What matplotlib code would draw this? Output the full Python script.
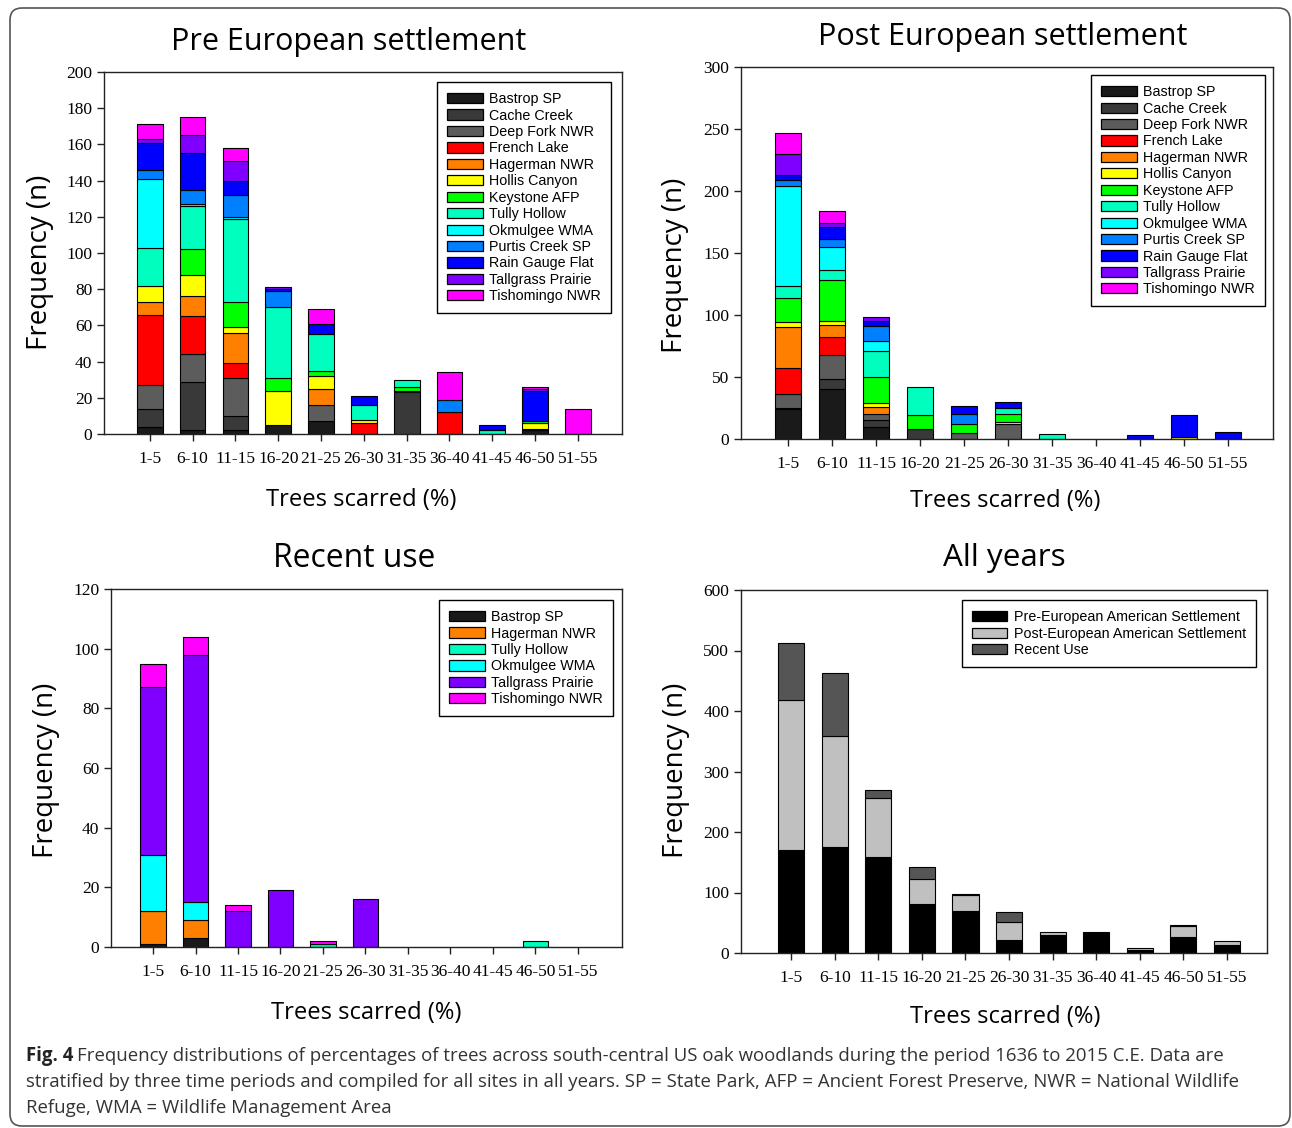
import matplotlib
matplotlib.use("Agg")
import matplotlib.pyplot as plt
from matplotlib.patches import Patch, FancyBboxPatch
from matplotlib.transforms import IdentityTransform
from matplotlib import font_manager
import numpy as np

# ---------------- data ----------------
categories = ["1-5", "6-10", "11-15", "16-20", "21-25", "26-30",
              "31-35", "36-40", "41-45", "46-50", "51-55"]

sites = ["Bastrop SP", "Cache Creek", "Deep Fork NWR", "French Lake",
         "Hagerman NWR", "Hollis Canyon", "Keystone AFP", "Tully Hollow",
         "Okmulgee WMA", "Purtis Creek SP", "Rain Gauge Flat",
         "Tallgrass Prairie", "Tishomingo NWR"]

# Pre European settlement
pre_bastrop    = [4, 2, 2, 5, 7, 0, 0, 0, 0, 2, 0]
pre_cache      = [10, 27, 8, 0, 0, 0, 23, 0, 0, 1, 0]
pre_deepfork   = [13, 15, 21, 0, 9, 0, 1, 0, 0, 0, 0]
pre_french     = [39, 21, 8, 0, 0, 6, 0, 12, 0, 0, 0]
pre_hagerman   = [7, 11, 17, 0, 9, 0, 0, 0, 0, 0, 0]
pre_hollis     = [9, 12, 3, 19, 7, 2, 0, 0, 0, 3, 0]
pre_keystone   = [0, 14, 14, 7, 3, 0, 2, 0, 0, 1, 0]
pre_tully      = [21, 24, 46, 39, 20, 8, 4, 0, 2, 0, 0]
pre_okmulgee   = [38, 1, 1, 0, 0, 0, 0, 0, 0, 0, 0]
pre_purtis     = [5, 8, 12, 9, 0, 0, 0, 7, 0, 0, 0]
pre_raingauge  = [15, 20, 8, 1, 6, 5, 0, 0, 3, 17, 0]
pre_tallgrass  = [2, 10, 11, 1, 0, 0, 0, 0, 0, 1, 0]
pre_tishomingo = [8, 10, 7, 0, 8, 0, 0, 15, 0, 1, 14]

# Post European settlement
post_bastrop    = [24, 40, 10, 0, 0, 0, 0, 0, 0, 0, 0]
post_cache      = [1, 8, 5, 8, 0, 0, 0, 0, 0, 0, 0]
post_deepfork   = [11, 20, 5, 0, 5, 12, 0, 0, 0, 0, 0]
post_french     = [21, 14, 0, 0, 0, 0, 0, 0, 0, 0, 0]
post_hagerman   = [33, 10, 6, 0, 0, 0, 0, 0, 0, 0, 0]
post_hollis     = [4, 3, 3, 0, 0, 2, 0, 0, 0, 2, 0]
post_keystone   = [20, 33, 21, 11, 7, 6, 0, 0, 0, 0, 0]
post_tully      = [9, 8, 21, 23, 0, 5, 4, 0, 0, 0, 0]
post_okmulgee   = [81, 19, 8, 0, 0, 0, 0, 0, 0, 0, 0]
post_purtis     = [5, 6, 12, 0, 8, 0, 0, 0, 0, 0, 0]
post_raingauge  = [4, 10, 4, 0, 7, 5, 0, 0, 3, 17, 6]
post_tallgrass  = [17, 3, 3, 0, 0, 0, 0, 0, 0, 0, 0]
post_tishomingo = [17, 10, 0, 0, 0, 0, 0, 0, 0, 0, 0]

# Recent use
recent_sites = ["Bastrop SP", "Hagerman NWR", "Tully Hollow",
                "Okmulgee WMA", "Tallgrass Prairie", "Tishomingo NWR"]
rec_bastrop    = [1, 3, 0, 0, 0, 0, 0, 0, 0, 0, 0]
rec_hagerman   = [11, 6, 0, 0, 0, 0, 0, 0, 0, 0, 0]
rec_tully      = [0, 0, 0, 0, 1, 0, 0, 0, 0, 2, 0]
rec_okmulgee   = [19, 6, 0, 0, 0, 0, 0, 0, 0, 0, 0]
rec_tallgrass  = [56, 83, 12, 19, 0, 16, 0, 0, 0, 0, 0]
rec_tishomingo = [8, 6, 2, 0, 1, 0, 0, 0, 0, 0, 0]

# All years
period_labels = ["Pre-European American Settlement",
                 "Post-European American Settlement", "Recent Use"]
all_pre    = [171, 175, 158, 81, 69, 21, 30, 34, 5, 26, 14]
all_post   = [247, 184, 98, 42, 27, 30, 4, 0, 3, 19, 6]
all_recent = [95, 104, 14, 19, 2, 16, 0, 0, 0, 2, 0]

# ---------------- styles ----------------
site_colors = {
    "Bastrop SP": "#1a1a1a", "Cache Creek": "#393939", "Deep Fork NWR": "#5c5c5c",
    "French Lake": "#ff0000", "Hagerman NWR": "#ff8000", "Hollis Canyon": "#ffff00",
    "Keystone AFP": "#00ff00", "Tully Hollow": "#00ffbf", "Okmulgee WMA": "#00ffff",
    "Purtis Creek SP": "#0080ff", "Rain Gauge Flat": "#0000ff",
    "Tallgrass Prairie": "#8000ff", "Tishomingo NWR": "#ff00ff"}
period_colors = ["#000000", "#c0c0c0", "#555555"]

W, H = 1292, 1128
fig = plt.figure(figsize=(W / 100, H / 100), dpi=100)
fig.patch.set_facecolor("white")

names = {f.name for f in font_manager.fontManager.ttflist}
cap_font = "Liberation Sans Narrow" if "Liberation Sans Narrow" in names else "Open Sans"
label_font = "Open Sans" if "Open Sans" in names else "DejaVu Sans"
legend_font = "Liberation Sans"
tick_font = "Liberation Serif"


def add_axes(left, top, right, bottom):
    return fig.add_axes([left / W, 1 - bottom / H, (right - left) / W, (bottom - top) / H])


def style_axes(ax, ymax, ystep, xlim):
    x = np.arange(len(categories))
    ax.set_xlim(*xlim)
    ax.set_ylim(0, ymax)
    ax.set_xticks(x)
    ax.set_xticklabels(categories)
    ax.set_yticks(np.arange(0, ymax + 1, ystep))
    for s in ax.spines.values():
        s.set_linewidth(1.0)
        s.set_color("#222222")
    ax.tick_params(axis="x", direction="out", length=5, width=1, pad=7,
                   labelsize=12.5, color="#222222")
    ax.tick_params(axis="y", direction="out", length=5, width=1, pad=3.5,
                   labelsize=12.5, color="#222222")
    for lab in ax.get_xticklabels() + ax.get_yticklabels():
        lab.set_fontfamily(tick_font)


def stack(ax, series, colors):
    x = np.arange(len(categories))
    bottom = np.zeros(len(categories))
    for vals, col in zip(series, colors):
        v = np.asarray(vals, dtype=float)
        m = v > 0
        if m.any():
            ax.bar(x[m], v[m], bottom=bottom[m], width=0.6, color=col,
                   edgecolor="black", linewidth=0.8, zorder=2)
        bottom += v


def legend(ax, labels, colors, anchor):
    handles = [Patch(facecolor=c, edgecolor="black", linewidth=0.9) for c in colors]
    lg = ax.legend(handles, labels, loc="upper right", bbox_to_anchor=anchor,
                   borderaxespad=0, fancybox=False, framealpha=1, edgecolor="black",
                   prop={"family": legend_font, "size": 10.3}, labelspacing=0.17,
                   handlelength=2.5, handleheight=0.72, handletextpad=0.45,
                   borderpad=0.7)
    lg.get_frame().set_linewidth(1.0)
    return lg


# Pre
ax1 = add_axes(104, 72, 622, 434)
pre_series = [pre_bastrop, pre_cache, pre_deepfork, pre_french, pre_hagerman,
              pre_hollis, pre_keystone, pre_tully, pre_okmulgee, pre_purtis,
              pre_raingauge, pre_tallgrass, pre_tishomingo]
stack(ax1, pre_series, [site_colors[s] for s in sites])
style_axes(ax1, 200, 20, (-1.07, 11.03))
legend(ax1, sites, [site_colors[s] for s in sites], (0.979, 0.972))

# Post
ax2 = add_axes(741, 67, 1273, 439)
post_series = [post_bastrop, post_cache, post_deepfork, post_french, post_hagerman,
               post_hollis, post_keystone, post_tully, post_okmulgee, post_purtis,
               post_raingauge, post_tallgrass, post_tishomingo]
stack(ax2, post_series, [site_colors[s] for s in sites])
style_axes(ax2, 300, 50, (-1.07, 11.02))
legend(ax2, sites, [site_colors[s] for s in sites], (0.985, 0.978))

# Recent
ax3 = add_axes(111, 589, 622, 947)
rec_series = [rec_bastrop, rec_hagerman, rec_tully, rec_okmulgee, rec_tallgrass, rec_tishomingo]
stack(ax3, rec_series, [site_colors[s] for s in recent_sites])
style_axes(ax3, 120, 20, (-0.99, 11.04))
legend(ax3, recent_sites, [site_colors[s] for s in recent_sites], (0.982, 0.969))

# All years
ax4 = add_axes(741, 590, 1267, 953)
stack(ax4, [all_pre, all_post, all_recent], period_colors)
style_axes(ax4, 600, 100, (-1.15, 10.92))
legend(ax4, period_labels, period_colors, (0.979, 0.972))

# ---------------- text ----------------
fig.canvas.draw()
renderer = fig.canvas.get_renderer()


def ftext(x, y, s, **kw):
    return fig.text(x / W, 1 - y / H, s, **kw)


def fit(t, target):
    bb = t.get_window_extent(renderer)
    length = max(bb.width, bb.height)
    t.set_fontsize(t.get_fontsize() * target / length)


titles = [(349, 42, "Pre European settlement", 355),
          (1003, 37, "Post European settlement", 369),
          (354, 558, "Recent use", 162),
          (1004, 558, "All years", 122)]
for x, y, s, w in titles:
    t = ftext(x, y, s, ha="center", va="center", fontsize=22, family=label_font)
    fit(t, w)

for x, y in [(40, 262), (675, 265), (46, 770), (676, 770)]:
    t = ftext(x, y, "Frequency (n)", ha="center", va="center", rotation=90,
              fontsize=20, family=label_font)
    fit(t, 175)

for x, y in [(361, 500), (1005, 501), (366, 1013), (1005, 1017)]:
    t = ftext(x, y, "Trees scarred (%)", ha="center", va="center",
              fontsize=17, family=label_font)
    fit(t, 191)

# caption
line1 = ("Frequency distributions of percentages of trees across south-central US oak "
         "woodlands during the period 1636 to 2015 C.E. Data are")
line2 = ("stratified by three time periods and compiled for all sites in all years. "
         "SP = State Park, AFP = Ancient Forest Preserve, NWR = National Wildlife")
line3 = "Refuge, WMA = Wildlife Management Area"
t2 = ftext(26, 1082, line2, ha="left", va="center", fontsize=13, family=cap_font,
           color="#333333")
fit(t2, 1207)
fs = t2.get_fontsize()
tb = ftext(26, 1056, "Fig. 4", ha="left", va="center", fontsize=fs, family=cap_font,
           fontweight="bold", color="#222222")
bb = tb.get_window_extent(renderer)
ftext(bb.x1 + fs * 0.3, 1056, line1, ha="left", va="center", fontsize=fs,
      family=cap_font, color="#333333")
ftext(26, 1108, line3, ha="left", va="center", fontsize=fs, family=cap_font,
      color="#333333")

# outer rounded border
border = FancyBboxPatch((10, 2), 1280, 1118, boxstyle="round,pad=0,rounding_size=12",
                        transform=IdentityTransform(), facecolor="none",
                        edgecolor="#555555", linewidth=1.2)
fig.add_artist(border)

fig.savefig("out.png", dpi=100, facecolor="white")
